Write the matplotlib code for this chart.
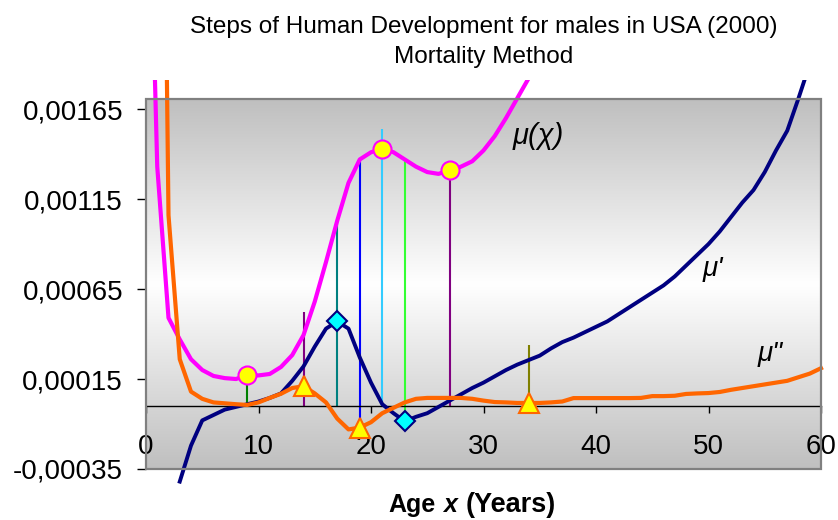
import numpy as np
import matplotlib
matplotlib.use("Agg")
import matplotlib.pyplot as plt
from matplotlib.patches import Rectangle
from matplotlib.ticker import FuncFormatter

plt.rcParams['font.family'] = ['Liberation Sans', 'DejaVu Sans']

# ---------------- data ----------------
mu_ages = list(range(0, 36))
mu_vals = [0.0037, 0.00133, 0.00049, 0.00037, 0.00026, 0.00020, 0.000167, 0.000155,
           0.00015, 0.000172, 0.00017, 0.000178, 0.000217, 0.000283, 0.000394, 0.00058,
           0.00080, 0.00103, 0.00124, 0.00137, 0.00141, 0.00143, 0.00141, 0.00137,
           0.00133, 0.00130, 0.00129, 0.00131, 0.00133, 0.00136, 0.00142, 0.00150,
           0.00160, 0.00171, 0.00182, 0.00195]

d1_ages = list(range(3, 60))
d1_vals = [-0.00042, -0.00022, -0.00008, -0.00005, -0.00002, -0.000005, 0.00001, 0.000025,
           0.000045, 0.00007, 0.00014, 0.00022, 0.00033, 0.00043, 0.00047, 0.00043,
           0.00027, 0.00013, 0.00001, -0.00004, -0.000085, -0.00006, -0.00004, -0.000005,
           0.00003, 0.000065, 0.0001, 0.00013, 0.000165, 0.0002, 0.00023, 0.000255,
           0.00028, 0.00032, 0.000355, 0.00038, 0.00041, 0.00044, 0.00047, 0.00051,
           0.00055, 0.00059, 0.00063, 0.00067, 0.00072, 0.00078, 0.00084, 0.0009,
           0.00097, 0.00105, 0.00113, 0.0012, 0.0013, 0.00142, 0.00153, 0.00171, 0.0019]

d2_ages = list(range(1, 61))
d2_vals = [0.0064, 0.00106, 0.00026, 0.00008, 0.00004, 0.00002, 0.000015, 0.00001,
           0.000006, 0.00002, 0.000045, 0.000068, 0.0001, 0.00011, 0.00007, 0.00002,
           -0.00007, -0.00013, -0.00012, -0.00009, -0.00004, -0.00001, 0.00002, 0.00004,
           0.000045, 0.000045, 0.000045, 0.000045, 0.00004, 0.00003, 0.000022, 0.00002,
           0.000017, 0.000017, 0.000017, 0.00002, 0.000025, 0.000044, 0.000044, 0.000044,
           0.000044, 0.000044, 0.000044, 0.000045, 0.000055, 0.000055, 0.000057, 0.000067,
           0.00007, 0.000072, 0.000078, 0.00009, 0.0001, 0.00011, 0.00012, 0.00013,
           0.00014, 0.00016, 0.00018, 0.00021]

circle_ages = [9, 21, 27]
diamond_ages = [17, 23]
triangle_ages = [14, 19, 34]

drop_ages = [9, 14, 17, 19, 21, 23, 27, 34]
drop_low = [0, 0, 0, -0.00012, 0, -0.000085, 0, 0.000017]
drop_high = [0.000172, 0.00052, 0.00103, 0.00137, 0.00154, 0.00137, 0.00131, 0.00034]
drop_colors = ['#008000', '#800080', '#008080', '#0000FF', '#33CCFF', '#33FF33', '#800080', '#808000']

y_ticks = [-0.00035, 0.00015, 0.00065, 0.00115, 0.00165]
x_ticks = [0, 10, 20, 30, 40, 50, 60]

title_lines = ["Steps of Human Development for males in USA (2000)", "Mortality Method"]

# ---------------- figure ----------------
W, H = 838, 520
fig = plt.figure(figsize=(W / 100, H / 100), dpi=100)
L, R, T, B = 146, 821, 99, 469
ax = fig.add_axes([L / W, 1 - B / H, (R - L) / W, (B - T) / H])

# gradient background (gray - white - gray)
t = np.linspace(-1, 1, 256)
g = 1 - 0.25 * np.abs(t)
img = np.dstack([g, g, g])[0][:, None, :].repeat(2, axis=1)
ax.imshow(img, extent=[0, 1, 0, 1], transform=ax.transAxes, aspect='auto', zorder=0,
          interpolation='bilinear')
ax.set_xlim(0, 60)
ax.set_ylim(-0.00035, 0.001706)

clip_rect = Rectangle((-0.1, -0.2), 1.2, 1.2 + 19 / 370, transform=ax.transAxes)

# drop lines
for a, lo, hi, c in zip(drop_ages, drop_low, drop_high, drop_colors):
    ax.vlines(a, lo, hi, colors=c, linewidth=1.5, zorder=2)

mu_s = dict(zip(mu_ages, mu_vals))
d1_s = dict(zip(d1_ages, d1_vals))
d2_s = dict(zip(d2_ages, d2_vals))

lines = []
lines += ax.plot(mu_ages, mu_vals, color='#FF00FF', lw=3, zorder=3)
lines += ax.plot(d1_ages, d1_vals, color='#000080', lw=2.8, zorder=3)
lines += ax.plot(d2_ages, d2_vals, color='#FF6600', lw=3, zorder=3)
for ln in lines:
    ln.set_clip_path(clip_rect)

ax.plot(circle_ages, [mu_s[a] for a in circle_ages], 'o', ms=13, mfc='#FFFF00',
        mec='#FF00FF', mew=1.5, zorder=5, clip_on=False)
ax.plot(diamond_ages, [d1_s[a] for a in diamond_ages], 'D', ms=10, mfc='#00FFFF',
        mec='#000080', mew=1.5, zorder=5, clip_on=False)
ax.plot(triangle_ages, [d2_s[a] for a in triangle_ages], '^', ms=15, mfc='#FFFF00',
        mec='#FF6600', mew=1.5, zorder=5, clip_on=False)

# axes styling
for s in ['left', 'right', 'top']:
    ax.spines[s].set_visible(False)
ax.spines['bottom'].set_position(('data', 0))
ax.spines['bottom'].set_color('black')
ax.spines['bottom'].set_linewidth(1)
ax.add_patch(Rectangle((0, 0), 1, 1, transform=ax.transAxes, fill=False,
                       edgecolor='#808080', lw=1.6, zorder=6, clip_on=False))

ax.set_yticks(y_ticks)
ax.yaxis.set_major_formatter(FuncFormatter(lambda v, p: f"{v:.5f}".replace('.', ',')))
ax.tick_params(axis='y', direction='out', length=6.5, width=1, pad=10, labelsize=20,
               colors='black')
ax.set_xticks(x_ticks)
ax.tick_params(axis='x', direction='out', length=5, width=1, pad=15, labelsize=20,
               colors='black')

# curve labels
fig.text(513 / W, 1 - 144 / H, "μ(χ)", fontsize=21, style='italic', ha='left', va='baseline')
fig.text(703 / W, 1 - 276 / H, "μ'", fontsize=20, style='italic', ha='left', va='baseline')
fig.text(758 / W, 1 - 361 / H, 'μ"', fontsize=20, style='italic', ha='left', va='baseline')

# titles
fig.text(483.5 / W, 1 - 33 / H, title_lines[0], fontsize=17.5, ha='center', va='baseline')
fig.text(483.5 / W, 1 - 63 / H, title_lines[1], fontsize=17.5, ha='center', va='baseline')

# x label
fig.text(436 / W, 1 - 512 / H, "Age", fontsize=18, fontweight='bold', ha='right', va='baseline')
fig.text(450 / W, 1 - 512 / H, "x", fontsize=18, fontweight='bold', style='italic',
         ha='center', va='baseline')
fig.text(466 / W, 1 - 512 / H, "(Years)", fontsize=19.5, fontweight='bold', ha='left',
         va='baseline')

fig.savefig("out.png", dpi=100)
